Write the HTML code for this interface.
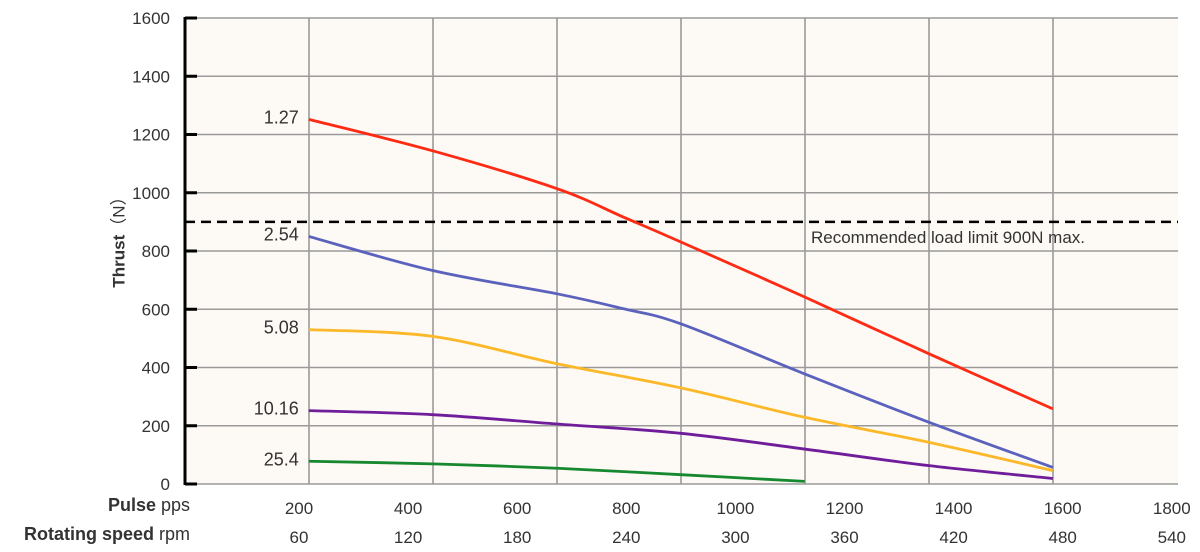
<!DOCTYPE html>
<html><head><meta charset="utf-8"><style>
body{margin:0;background:#fff;}
svg{display:block;font-family:"Liberation Sans","Noto Sans CJK SC",sans-serif;}
</style></head><body>
<svg id="chart" width="1200" height="552" viewBox="0 0 1200 552">
<rect x="185" y="18" width="993" height="466" fill="#fdf9f4"/>
<g id="grid"></g>
<g id="curves"></g>
<g id="labels"></g>
</svg>
<script>
const yTicks=[0,200,400,600,800,1000,1200,1400,1600];
const pulseTicks=[200,400,600,800,1000,1200,1400,1600,1800];
const rpmTicks=[60,120,180,240,300,360,420,480,540];
const seriesNames=["1.27","2.54","5.08","10.16","25.4"];
const seriesColors=["#ff2a14","#5b62bd","#fbb829","#6f1d9a","#16882f"];
const redX=[218,445,673,794,900,1127,1355,1582];
const redY=[1252,1144,1014,917,831,642,447,258];
const blueX=[218,445,673,794,900,1127,1355,1582];
const blueY=[850,733,653,602,550,378,212,57];
const yellowX=[218,445,673,900,1127,1355,1582];
const yellowY=[530,507,413,330,229,143,46];
const purpleX=[218,445,673,900,1127,1355,1582];
const purpleY=[252,238,206,174,120,63,19];
const greenX=[218,445,673,900,1127];
const greenY=[78,69,54,32,9];
const limitValue=900;
const NS="http://www.w3.org/2000/svg";
function xs(p){return 299+(p-200)*109.1/200;}
function ys(v){return 484-v*466/1600;}
function mk(tag,attrs,parent){const e=document.createElementNS(NS,tag);for(const k in attrs)e.setAttribute(k,attrs[k]);parent.appendChild(e);return e;}
const grid=document.getElementById('grid'),curves=document.getElementById('curves'),labels=document.getElementById('labels');
// vertical gridlines
for(let i=1;i<=7;i++){const gx=185+i*124;
 const l=mk('line',{x1:Math.min(gx,1177),x2:Math.min(gx,1177),y1:18,y2:484,stroke:'#9a9a9a','stroke-width':1.6},grid);
 
 }
yTicks.forEach(v=>{const y=ys(v);
 const l=mk('line',{x1:185,x2:1178,y1:y,y2:y,stroke:'#9a9a9a','stroke-width':1.6},grid);
 
 
 const t=mk('line',{x1:185,x2:197,y1:y,y2:y,stroke:'#000','stroke-width':3},grid);
 
 
 const tx=mk('text',{x:170,y:y+6,'text-anchor':'end','font-size':17,fill:'#333'},labels);
 tx.textContent=v;
 
 });
const ax=mk('line',{x1:185,x2:185,y1:17,y2:485,stroke:'#000','stroke-width':3},grid);


// limit line
const ly=ys(limitValue);
const dl=mk('line',{x1:185,x2:1178,y1:ly,y2:ly,stroke:'#000','stroke-width':2.5,'stroke-dasharray':'10,6'},curves);


const lt=mk('text',{x:811,y:ly+21,'font-size':17,fill:'#333'},labels);
lt.textContent='Recommended load limit 900N max.';


function path(X,Y){const p=X.map((x,i)=>[xs(x),ys(Y[i])]);let d='M'+p[0][0]+','+p[0][1];
 for(let i=0;i<p.length-1;i++){const p0=p[Math.max(i-1,0)],p1=p[i],p2=p[i+1],p3=p[Math.min(i+2,p.length-1)];
  d+=' C'+(p1[0]+(p2[0]-p0[0])/6)+','+(p1[1]+(p2[1]-p0[1])/6)+' '+(p2[0]-(p3[0]-p1[0])/6)+','+(p2[1]-(p3[1]-p1[1])/6)+' '+p2[0]+','+p2[1];}
 return d;}
const allX=[redX,blueX,yellowX,purpleX,greenX],allY=[redY,blueY,yellowY,purpleY,greenY];
allX.forEach((X,i)=>{const Y=allY[i];
 const pth=mk('path',{d:path(X,Y),fill:'none',stroke:seriesColors[i],'stroke-width':2.8},curves);
 
 
 const t=mk('text',{x:xs(X[0])-10,y:ys(Y[0])+4,'text-anchor':'end','font-size':18,fill:'#333'},labels);
 t.textContent=seriesNames[i];
 
 });
pulseTicks.forEach((v,i)=>{const t=mk('text',{x:xs(v),y:514,'text-anchor':'middle','font-size':17,fill:'#333'},labels);
 t.textContent=v;
 
 
 const r=mk('text',{x:xs(v),y:543,'text-anchor':'middle','font-size':17,fill:'#333'},labels);
 r.textContent=rpmTicks[i];
 
 });
</script>
<svg width="0" height="0" style="position:absolute"></svg>
<div style="position:absolute;left:0;top:0;width:1200px;height:552px;pointer-events:none;font-family:'Liberation Sans','Noto Sans CJK SC',sans-serif;color:#333;">
<div style="position:absolute;right:1010px;top:495px;font-size:18px;white-space:nowrap;"><b>Pulse</b> pps</div>
<div style="position:absolute;right:1010px;top:524px;font-size:18px;white-space:nowrap;"><b>Rotating speed</b> rpm</div>
<div style="position:absolute;left:117px;top:238px;transform:translate(-50%,-50%) rotate(-90deg);font-size:17px;white-space:nowrap;"><b>Thrust</b>（N）</div>
</div>
</body></html>
